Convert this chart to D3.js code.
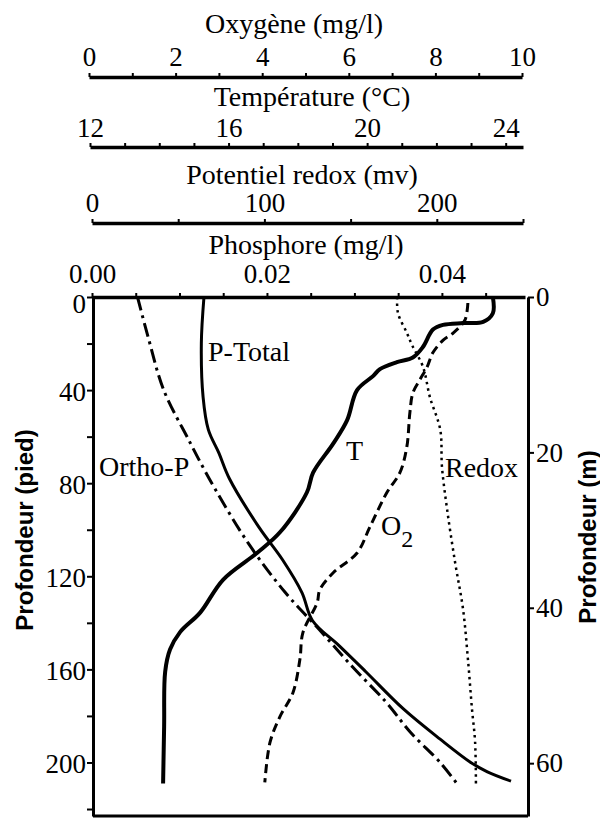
<!DOCTYPE html>
<meta charset="utf-8">
<script src="https://d3js.org/d3.v7.min.js"></script>
<style>
  body { margin: 0; background: #fff; }
</style>
<div id="my_dataviz"></div>
<script>
  // ---- data (depth in feet) ----
  var depthPTotal = [0, 20, 43, 57, 67, 78, 99, 113, 127, 139, 150, 161, 177, 190, 200, 204, 208];
  var pTotal = [0.0128, 0.0125, 0.0127, 0.0133, 0.0145, 0.0157, 0.0191, 0.0218, 0.0240, 0.0252, 0.0283, 0.0313, 0.0356, 0.0398, 0.0433, 0.0452, 0.0479];

  var depthOrtho = [0, 17, 40, 61, 69, 82, 106, 127, 143, 159, 174, 187, 200, 209];
  var orthoP = [0.0052, 0.0064, 0.0082, 0.0110, 0.0121, 0.0140, 0.0179, 0.0221, 0.0260, 0.0298, 0.0336, 0.0364, 0.0398, 0.0417];

  var depthTemp = [0, 7, 10.7, 11.2, 12, 14, 21.5, 26, 28, 31, 34, 40, 53, 63, 75.5, 84, 101, 110, 121.5, 135.6, 144, 151.5, 161, 184.5, 209];
  var temp = [23.63, 23.63, 23.35, 22.77, 22.19, 21.9, 21.61, 21.32, 20.86, 20.37, 20.17, 19.71, 19.42, 19.02, 18.44, 18.26, 17.49, 16.82, 15.84, 15.18, 14.6, 14.31, 14.17, 14.14, 14.11];

  var depthO2 = [2.6, 10, 15.5, 18.5, 24, 30, 35.6, 41.2, 49.8, 64.4, 75.5, 84, 98.7, 110, 118.5, 125.8, 131.3, 144.2, 155.8, 170, 180.3, 191.4, 208.6];
  var oxygen = [8.75, 8.68, 8.41, 8.18, 7.94, 7.81, 7.64, 7.48, 7.41, 7.34, 7.18, 6.88, 6.49, 6.19, 5.64, 5.33, 5.27, 4.94, 4.87, 4.71, 4.41, 4.18, 4.06];

  var depthRedox = [0, 7, 15.5, 20.6, 30, 43, 57, 73, 91.4, 114, 134, 156, 177, 191, 210];
  var redox = [177, 177.5, 182.7, 185.6, 192, 196, 202, 203, 206, 210.6, 215.2, 218.1, 220.4, 222.2, 222.7];

  // tick values
  var oxTicks = d3.range(0, 10.01, 1);
  var tempTicks = d3.range(12, 24.01, 1);
  var redoxTicks = d3.range(0, 250.1, 50);
  var phosTicks = d3.range(0, 0.0496, 0.005);
  var feetTicks = d3.range(0, 220.1, 20);
  var meterTicks = [0, 20, 40, 60];

  var width = 600, height = 821;
  var serif = "'Liberation Serif', 'Times New Roman', serif";
  var sans = "'Liberation Sans', Arial, sans-serif";

  var svg = d3.select("#my_dataviz")
    .append("svg")
    .attr("width", width)
    .attr("height", height)
    .style("background", "#fff");

  // scales
  var xO = d3.scaleLinear().domain([0, 10]).range([89, 522]);
  var xT = d3.scaleLinear().domain([12, 24.5]).range([90, 523]);
  var xR = d3.scaleLinear().domain([0, 250]).range([92, 523]);
  var xP = d3.scaleLinear().domain([0, 0.0495]).range([92, 525]);
  var yFt = d3.scaleLinear().domain([0, 223]).range([297, 816]);
  var yM = d3.scaleLinear().domain([0, 66.8]).range([297, 816]);

  function styleAxis(g, lineW, size) {
    g.attr("font-family", serif).attr("font-size", size);
    g.select(".domain").attr("stroke-width", lineW);
    g.selectAll(".tick line").attr("stroke-width", 2);
    g.selectAll(".tick text")
      .attr("fill", "#000")
      .attr("font-family", serif)
      .attr("font-size", size);
  }

  // top axes
  var topAxes = [
    { y: 77, pad: 7, axis: d3.axisTop(xO).tickValues(oxTicks).tickFormat(function (d) { return d % 2 === 0 ? d : ""; }) },
    { y: 147, pad: 6, axis: d3.axisTop(xT).tickValues(tempTicks).tickFormat(function (d) { return d % 4 === 0 ? d : ""; }) },
    { y: 223, pad: 7, axis: d3.axisTop(xR).tickValues(redoxTicks).tickFormat(function (d) { return d % 100 === 0 ? d : ""; }) },
    { y: 297, pad: 10, axis: d3.axisTop(xP).tickValues(phosTicks).tickFormat(function (d) { return Math.round(d * 1000) % 20 === 0 ? d3.format(".2f")(d) : ""; }) }
  ];
  topAxes.forEach(function (a) {
    svg.append("g")
      .attr("transform", "translate(0," + a.y + ")")
      .call(a.axis.tickSize(4).tickSizeOuter(0).tickPadding(a.pad))
      .call(styleAxis, 3.5, 27);
  });

  // axis titles on top
  var titles = [
    { t: "Oxygène (mg/l)", x: 294, y: 33 },
    { t: "Température (°C)", x: 312, y: 106 },
    { t: "Potentiel redox (mv)", x: 302, y: 184 },
    { t: "Phosphore (mg/l)", x: 306, y: 254 }
  ];
  svg.selectAll("text.title")
    .data(titles)
    .enter()
    .append("text")
    .attr("class", "title")
    .attr("x", function (d) { return d.x; })
    .attr("y", function (d) { return d.y; })
    .attr("text-anchor", "middle")
    .attr("font-family", serif)
    .attr("font-size", 28)
    .text(function (d) { return d.t; });

  // left depth axis (feet)
  var leftAxis = svg.append("g")
    .attr("transform", "translate(93,0)")
    .call(d3.axisLeft(yFt).tickValues(feetTicks).tickSize(6).tickSizeOuter(0).tickPadding(1)
      .tickFormat(function (d) { return d % 40 === 0 && d <= 200 ? d : ""; }))
    .call(styleAxis, 3, 27);
  leftAxis.selectAll(".tick text")
    .attr("dy", function (d) { return d === 0 ? "0.58em" : "0.38em"; });

  // right depth axis (m)
  svg.append("g")
    .attr("transform", "translate(528,0)")
    .call(d3.axisRight(yM).tickValues(meterTicks).tickSize(6).tickSizeOuter(0).tickPadding(2))
    .call(styleAxis, 3, 27);

  // bottom frame line
  svg.append("line")
    .attr("x1", 93).attr("x2", 528)
    .attr("y1", 816).attr("y2", 816)
    .attr("stroke", "#000").attr("stroke-width", 3);

  // y titles
  svg.append("text")
    .attr("transform", "translate(33,530) rotate(-90)")
    .attr("text-anchor", "middle")
    .attr("font-family", sans)
    .attr("font-weight", "bold")
    .attr("font-size", 24)
    .text("Profondeur (pied)");

  svg.append("text")
    .attr("transform", "translate(596,537) rotate(-90)")
    .attr("text-anchor", "middle")
    .attr("font-family", sans)
    .attr("font-weight", "bold")
    .attr("font-size", 24)
    .text("Profondeur (m)");

  // profiles
  function profile(depths, values, xScale) {
    return depths.map(function (d, i) { return [xScale(values[i]), yFt(d)]; });
  }
  var line = d3.line().curve(d3.curveCatmullRom.alpha(0.5));

  var series = [
    { pts: profile(depthPTotal, pTotal, xP), w: 3, dash: null },
    { pts: profile(depthOrtho, orthoP, xP), w: 3, dash: "14,5,3,5" },
    { pts: profile(depthTemp, temp, xT), w: 4, dash: null },
    { pts: profile(depthO2, oxygen, xO), w: 3, dash: "9,5" },
    { pts: profile(depthRedox, redox, xR), w: 2.5, dash: "2.5,4" }
  ];

  svg.selectAll("path.profile")
    .data(series)
    .enter()
    .append("path")
    .attr("class", "profile")
    .attr("d", function (d) { return line(d.pts); })
    .attr("fill", "none")
    .attr("stroke", "#000")
    .attr("stroke-width", function (d) { return d.w; })
    .attr("stroke-dasharray", function (d) { return d.dash; });

  // curve labels
  var labels = [
    { t: "P-Total", x: 208, y: 361 },
    { t: "Ortho-P", x: 99, y: 476 },
    { t: "T", x: 346, y: 460 },
    { t: "Redox", x: 445, y: 477 }
  ];
  svg.selectAll("text.lbl")
    .data(labels)
    .enter()
    .append("text")
    .attr("class", "lbl")
    .attr("x", function (d) { return d.x; })
    .attr("y", function (d) { return d.y; })
    .attr("font-family", serif)
    .attr("font-size", 28)
    .text(function (d) { return d.t; });

  var o2 = svg.append("text")
    .attr("x", 381).attr("y", 535)
    .attr("font-family", serif)
    .attr("font-size", 28)
    .text("O");
  o2.append("tspan").attr("dy", 12).attr("font-size", 24).text("2");
</script>
